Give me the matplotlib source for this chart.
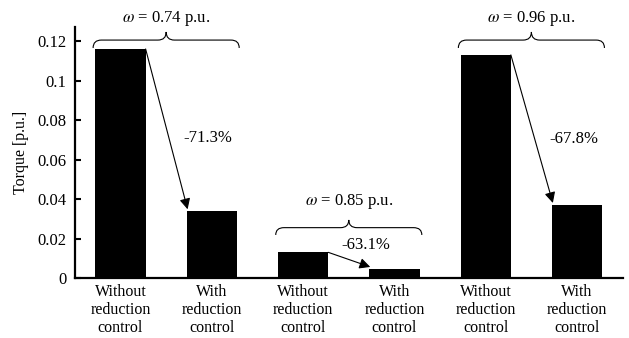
import matplotlib
matplotlib.use("Agg")
import matplotlib.pyplot as plt
from matplotlib.path import Path
from matplotlib.patches import PathPatch

plt.rcParams['font.family'] = ['Liberation Serif', 'DejaVu Serif']
plt.rcParams['mathtext.fontset'] = 'stix'

categories = ["Without\nreduction\ncontrol", "With\nreduction\ncontrol"] * 3
torque = [0.116, 0.034, 0.013, 0.0048, 0.113, 0.0372]
speeds = ["0.74", "0.85", "0.96"]
reductions = ["-71.3%", "-63.1%", "-67.8%"]
yticks = [0, 0.02, 0.04, 0.06, 0.08, 0.1, 0.12]
ytick_labels = ["0", "0.02", "0.04", "0.06", "0.08", "0.1", "0.12"]

fig = plt.figure(figsize=(6.29, 3.38), dpi=100)
ax = fig.add_axes([0.119, 0.1775, 0.871, 0.7425])
x = list(range(len(torque)))
bw = 0.55
ax.bar(x, torque, width=bw, color='black')
ax.set_xlim(-0.5, 5.5)
ax.set_ylim(0, 0.1271)
ax.set_yticks(yticks)
ax.set_yticklabels(ytick_labels, fontsize=12)
ax.set_xticks(x)
ax.set_xticklabels(categories, fontsize=11.5, linespacing=1.2)
ax.tick_params(axis='x', length=0, pad=4)
ax.tick_params(axis='y', direction='in', length=4, width=1.5, pad=6)
for s in ['top', 'right']:
    ax.spines[s].set_visible(False)
for s in ['left', 'bottom']:
    ax.spines[s].set_linewidth(1.6)
ax.set_ylabel("Torque [p.u.]", fontsize=11.5, labelpad=6)


def brace(xl, xr, yend, yline, ypeak, r=0.09):
    xm = (xl + xr) / 2
    verts = [(xl, yend), (xl, yline), (xl + r, yline),
             (xm - r, yline), (xm, yline), (xm, ypeak),
             (xm, yline), (xm + r, yline),
             (xr - r, yline), (xr, yline), (xr, yend)]
    codes = [Path.MOVETO, Path.CURVE3, Path.CURVE3,
             Path.LINETO, Path.CURVE3, Path.CURVE3,
             Path.CURVE3, Path.CURVE3,
             Path.LINETO, Path.CURVE3, Path.CURVE3]
    ax.add_patch(PathPatch(Path(verts, codes), fill=False, lw=0.8,
                           color='black', clip_on=False))


groups = [(0, 0.1165, 0.1205, 0.1246, 0.1316),
          (2, 0.0218, 0.0255, 0.0294, 0.0385),
          (4, 0.1165, 0.1205, 0.1246, 0.1316)]
for (i, ye, yl, yp, yt), sp in zip(groups, speeds):
    brace(x[i] - 0.3, x[i + 1] + 0.3, ye, yl, yp)
    ax.text(x[i] + 0.5, yt, r"$\omega$ = " + sp + " p.u.", ha='center',
            va='center', fontsize=12, clip_on=False)

label_pos = [(0.96, 0.0709), (2.69, 0.0165), (4.96, 0.0704)]
for k, (i, red) in enumerate(zip([0, 2, 4], reductions)):
    x0 = x[i] + bw / 2
    x1 = x[i + 1] - bw / 2
    ax.annotate("", xy=(x1 + 0.01, torque[i + 1] + 0.0008),
                xytext=(x0, torque[i]),
                arrowprops=dict(arrowstyle='-|>', mutation_scale=16, lw=0.8,
                                color='black', shrinkA=0, shrinkB=0))
    ax.text(label_pos[k][0], label_pos[k][1], red, ha='center', va='center',
            fontsize=12)

fig.savefig("out.png", dpi=100)
